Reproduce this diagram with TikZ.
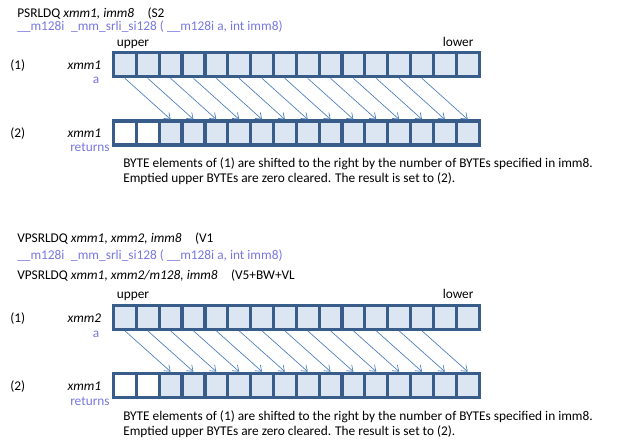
\documentclass[tikz,border=0pt]{standalone}
\usepackage{fontspec}
\setmainfont{Carlito}
\usetikzlibrary{arrows.meta}

\definecolor{regline}{RGB}{56,93,138}
\definecolor{regfill}{RGB}{220,230,242}
\definecolor{shiftline}{RGB}{74,126,187}
\definecolor{intrin}{RGB}{119,119,224}

\begin{document}
\begin{tikzpicture}[x=0.75pt,y=-0.75pt,
  every node/.style={font=\fontsize{10}{12}\selectfont},
  txt/.style={inner sep=0pt, anchor=base west},
  txtr/.style={inner sep=0pt, anchor=base east},
  cell/.style={draw=regline, line width=2.4pt, fill=regfill, minimum width=22.85*0.75pt, minimum height=24*0.75pt, inner sep=0pt},
  emptycell/.style={fill=white},
  shiftarrow/.style={draw=shiftline, line width=0.5pt, -{Straight Barb[length=4pt,width=6pt]}}]
\useasboundingbox (0,0) rectangle (627,448);

% PSRLDQ
\path (17,17.5) node (ins1) [txt] {PSRLDQ \textit{xmm1, imm8}\quad(S2};
\path (17,31) node (fn1) [txt, text=intrin] {\_\_m128i\enspace\_mm\_srli\_si128 ( \_\_m128i a, int imm8)};
\path (116.5,46.5) node (up1) [txt] {upper};
\path (442.5,46.5) node (lo1) [txt] {lower};
\path (10,70) node (n1a) [txt] {(1)};
\path (101.5,70) node (x1a) [txtr] {\textit{xmm1}};
\path (99.5,84) node (p1a) [txtr, text=intrin] {a};
\path (10,137.7) node (n1b) [txt] {(2)};
\path (101.5,137.7) node (x1b) [txtr] {\textit{xmm1}};
\path (70,152) node (p1b) [txt, text=intrin] {returns};
\path (123,167.7) node (d1a) [txt] {BYTE elements of (1) are shifted to the right by the number of BYTEs specified in imm8.};
\path (123,182.7) node (d1b) [txt] {Emptied upper BYTEs are zero cleared. The result is set to (2).};

\foreach \i in {1,...,16} {
  \path (102.075+22.85*\i,64.75) node (a\i) [cell] {};
}
\foreach \i in {1,...,16} {
  \ifnum\i<3
    \path (102.075+22.85*\i,133) node (r\i) [cell, emptycell] {};
  \else
    \path (102.075+22.85*\i,133) node (r\i) [cell] {};
  \fi
}
\foreach \i [evaluate=\i as \j using int(\i+2)] in {1,...,14} {
  \draw [shiftarrow] (a\i.south) to (r\j.north);
}

% VPSRLDQ
\path (17,242.3) node (ins2) [txt] {VPSRLDQ \textit{xmm1, xmm2, imm8}\quad(V1};
\path (17,259.5) node (fn2) [txt, text=intrin] {\_\_m128i\enspace\_mm\_srli\_si128 ( \_\_m128i a, int imm8)};
\path (17,279.3) node (ins3) [txt] {VPSRLDQ \textit{xmm1, xmm2/m128, imm8}\quad(V5+BW+VL};
\path (116.5,298.8) node (up2) [txt] {upper};
\path (442.5,298.8) node (lo2) [txt] {lower};
\path (10,322.5) node (n2a) [txt] {(1)};
\path (101.5,322.5) node (x2a) [txtr] {\textit{xmm2}};
\path (99.5,337.5) node (p2a) [txtr, text=intrin] {a};
\path (10,390.2) node (n2b) [txt] {(2)};
\path (101.5,390.2) node (x2b) [txtr] {\textit{xmm1}};
\path (70,405) node (p2b) [txt, text=intrin] {returns};
\path (123,420) node (d2a) [txt] {BYTE elements of (1) are shifted to the right by the number of BYTEs specified in imm8.};
\path (123,435.2) node (d2b) [txt] {Emptied upper BYTEs are zero cleared. The result is set to (2).};

\foreach \i in {1,...,16} {
  \path (102.075+22.85*\i,317.25) node (b\i) [cell] {};
}
\foreach \i in {1,...,16} {
  \ifnum\i<3
    \path (102.075+22.85*\i,385.25) node (s\i) [cell, emptycell] {};
  \else
    \path (102.075+22.85*\i,385.25) node (s\i) [cell] {};
  \fi
}
\foreach \i [evaluate=\i as \j using int(\i+2)] in {1,...,14} {
  \draw [shiftarrow] (b\i.south) to (s\j.north);
}

\end{tikzpicture}
\end{document}
